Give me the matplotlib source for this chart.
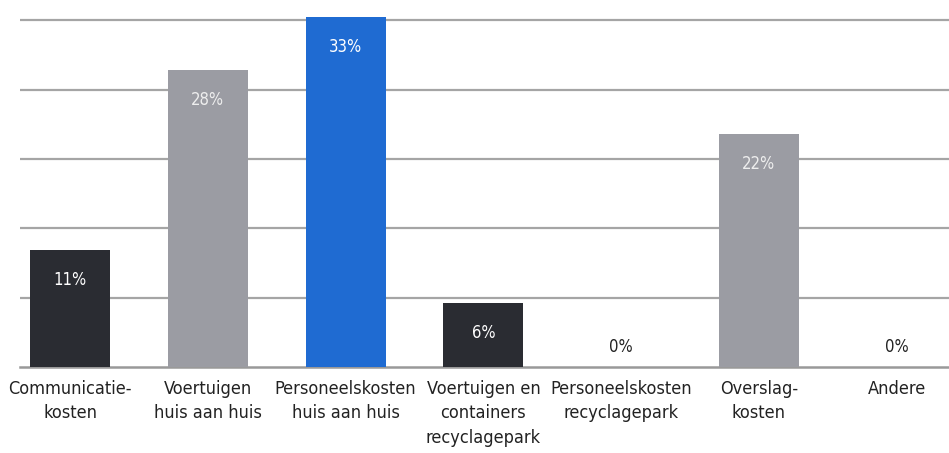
import matplotlib
matplotlib.use("Agg")
import matplotlib.pyplot as plt
import numpy as np

categories = ["Communicatie-\nkosten", "Voertuigen\nhuis aan huis", "Personeelskosten\nhuis aan huis",
              "Voertuigen en\ncontainers\nrecyclagepark", "Personeelskosten\nrecyclagepark",
              "Overslag-\nkosten", "Andere"]
values = [11, 28, 33, 6, 0, 22, 0]
labels = ["11%", "28%", "33%", "6%", "0%", "22%", "0%"]
colors = ["#2a2c32", "#9b9ca3", "#1f6bd2", "#2a2c32", "#2a2c32", "#9b9ca3", "#2a2c32"]
label_colors = ["white", "#eeeeee", "white", "white", "#222222", "#eeeeee", "#222222"]
grid_values = np.linspace(0, 32.7, 6)

font = ["DejaVu Sans"]

fig = plt.figure(figsize=(9.49, 4.53), dpi=100)
ax = fig.add_axes([20/949, 86/453, 929/949, (367-12)/453])
x = np.arange(len(values))
ax.bar(x, values, width=0.58, color=colors, zorder=3)
ax.set_xlim(-0.363, 6.379)
ax.set_ylim(0, 33.5)
ax.set_yticks(grid_values[1:])
ax.yaxis.grid(True, color="#a5a5a5", linewidth=1.6, zorder=0)
ax.tick_params(axis="y", left=False, labelleft=False)
ax.tick_params(axis="x", bottom=False, pad=6)
ax.set_xticks(x)
ax.set_xticklabels(categories, fontsize=13, family=font, stretch="condensed",
                   color="#222222", linespacing=1.45)
for s in ["top", "right", "left"]:
    ax.spines[s].set_visible(False)
ax.spines["bottom"].set_color("#999999")
ax.spines["bottom"].set_linewidth(1.8)

ax.set_axisbelow(True)
for xi, v, lab, lc in zip(x, values, labels, label_colors):
    y = v - 2.8 if v > 2 else v + 1.9
    ax.text(xi, y, lab, ha="center", va="center", color=lc, fontsize=12,
            family=font, stretch="condensed", zorder=4)

fig.savefig("out.png", dpi=100)
